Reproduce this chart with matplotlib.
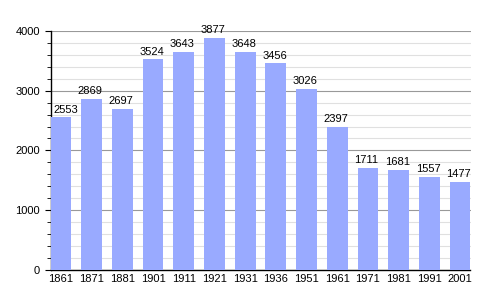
import matplotlib
matplotlib.use("Agg")
import matplotlib.pyplot as plt
from matplotlib.ticker import MultipleLocator

years = ["1861", "1871", "1881", "1901", "1911", "1921", "1931", "1936",
         "1951", "1961", "1971", "1981", "1991", "2001"]
population = [2553, 2869, 2697, 3524, 3643, 3877, 3648, 3456, 3026, 2397,
              1711, 1681, 1557, 1477]

plt.rcParams['font.family'] = ['Liberation Sans', 'DejaVu Sans']
fig = plt.figure(figsize=(5, 3), dpi=100)
ax = fig.add_axes([0.101, 0.10, 0.84, 0.797])

x = list(range(len(years)))
half = 0.34
ax.bar(x, population, width=2 * half, color="#99aaff", zorder=3)
for xi, v in zip(x, population):
    if xi == 0:
        ax.annotate(str(v), (xi - half, v), xytext=(2, 2), textcoords="offset points",
                    ha="left", va="bottom", fontsize=8, zorder=4)
    else:
        ax.annotate(str(v), (xi, v), xytext=(-1, 2), textcoords="offset points",
                    ha="center", va="bottom", fontsize=8, zorder=4)

ax.set_xlim(-half, len(years) - 1 + half)
ax.set_ylim(0, 4000)
ax.set_xticks(x)
ax.set_xticklabels(years, fontsize=8)
ax.yaxis.set_major_locator(MultipleLocator(1000))
ax.yaxis.set_minor_locator(MultipleLocator(200))
ax.tick_params(axis="y", labelsize=8, length=4, direction="out")
ax.tick_params(axis="y", which="minor", length=3)
ax.tick_params(axis="x", length=0, pad=3)
ax.grid(axis="y", which="major", color="#999999", linewidth=0.8, zorder=1)
ax.grid(axis="y", which="minor", color="#e0e0e0", linewidth=0.8, zorder=0)
for s in ["top", "right"]:
    ax.spines[s].set_visible(False)
ax.spines["left"].set_linewidth(1)
ax.spines["bottom"].set_linewidth(1)

fig.savefig("out.png", dpi=100)
